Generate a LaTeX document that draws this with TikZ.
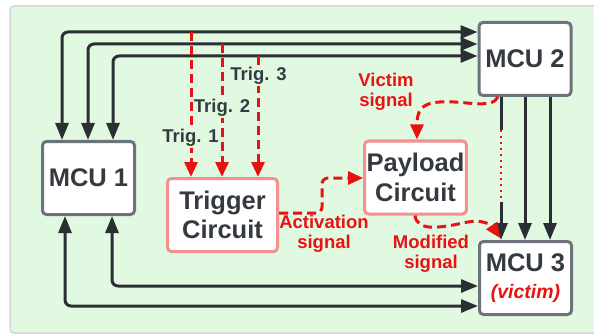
\documentclass[tikz,border=0pt]{standalone}
\usepackage{fontspec}
\setmainfont{Liberation Sans}
\usetikzlibrary{arrows.meta}
\definecolor{panel}{HTML}{E1F8E1}
\definecolor{panelborder}{HTML}{D3D7DB}
\definecolor{boxgray}{HTML}{6C737C}
\definecolor{pinkb}{HTML}{F49090}
\definecolor{sigred}{HTML}{E81212}
\definecolor{ink}{HTML}{2B2F33}
\definecolor{txt}{HTML}{343A40}
\tikzset{
  mcu/.style={draw=boxgray, line width=3pt, fill=white, rounded corners=4pt,
    minimum width=92pt, minimum height=73pt, inner sep=2pt, align=center,
    text=txt, font=\bfseries\fontsize{25.5}{29.5}\selectfont},
  circ/.style={mcu, draw=pinkb},
  bus/.style={draw=ink, line width=3pt, rounded corners=6pt,
    arrows={Triangle[length=17pt,width=13pt]-Triangle[length=17pt,width=13pt]}},
  down/.style={draw=ink, line width=3pt, -{Triangle[length=17pt,width=13pt]}},
  sig/.style={draw=sigred, line width=3pt, dash pattern=on 9pt off 5pt,
    -{Triangle[length=15pt,width=13pt]}},
  siglbl/.style={text=sigred, font=\bfseries\fontsize{18.5}{19.5}\selectfont, align=center, inner sep=0pt},
  triglbl/.style={text=txt, fill=panel, font=\bfseries\fontsize{18.5}{20}\selectfont, inner sep=1pt},
}
\begin{document}
\begin{tikzpicture}[x=1pt,y=-1pt]
\useasboundingbox (0,0) rectangle (594,334);
\fill[white] (0,0) rectangle (594,334);
\draw[panelborder, line width=1.5pt, fill=panel, rounded corners=4pt] (10,6) rectangle (600,333);

% boxes
\node[mcu] (m1) at (88.5,178) {MCU 1};
\node[mcu] (m2) at (525,59) {MCU 2};
\node[mcu] (m3) at (525.5,278) {MCU 3\\[-3pt]{\color{sigred}\itshape\fontsize{19.5}{22}\selectfont(victim)}};
\node[circ, minimum width=110pt] (trig) at (222.5,215) {Trigger\\Circuit};
\node[circ] (pay) at (415.5,177.5) {Payload\\Circuit};

% top buses MCU2 <-> MCU1
\draw[bus] (m2.west |- {(0,32)}) -| (m1.north -| {(62,0)});
\draw[bus] (m2.west |- {(0,44)}) -| (m1.north -| {(88,0)});
\draw[bus] (m2.west |- {(0,56)}) -| (m1.north -| {(113,0)});

% bottom buses MCU3 <-> MCU1
\draw[bus] (m3.west |- {(0,306)}) -| (m1.south -| {(65,0)});
\draw[bus] (m3.west |- {(0,286)}) -| (m1.south -| {(112,0)});

% MCU2 -> MCU3
\draw[down] (m2.south -| {(525,0)}) -- (m3.north -| {(525,0)});
\draw[down] (m2.south -| {(550,0)}) -- (m3.north -| {(550,0)});
\coordinate (cutA) at (501,130);
\coordinate (cutB) at (501,202);
\draw[ink, line width=3pt] (m2.south -| cutA) -- (cutA);
\draw[sigred, line width=2.6pt, dash pattern=on 2pt off 4pt] (cutA) -- (cutB);
\draw[down] (cutB) -- (m3.north -| cutB);

% trigger lines
\coordinate (t1) at (191,32);
\coordinate (t2) at (222,44);
\coordinate (t3) at (258,56);
\draw[sig] (t1) -- (trig.north -| t1);
\draw[sig] (t2) -- (trig.north -| t2);
\draw[sig] (t3) -- (trig.north -| t3);
\node[triglbl] (l1) at (190.5,138) {Trig. 1};
\node[triglbl] (l2) at (222,108) {Trig. 2};
\node[triglbl] (l3) at (258.5,76) {Trig. 3};

% activation signal
\draw[sig, rounded corners=6pt] (trig.east |- {(0,213)}) -- (322,213) -- (322,178) -- (pay.west |- {(0,178)});
\node[siglbl] (act) at (324,234) {Activation\\signal};

% victim signal
\draw[sig] (m2.south -| {(498,0)}) .. controls (492,110) and (462,100) .. (440,102)
  .. controls (420,103) and (417,112) .. (pay.north -| {(417,0)});
\node[siglbl] (vic) at (386,92) {Victim\\signal};

% modified signal
\coordinate (mtip) at (500,238);
\draw[sig] (pay.south -| {(415,0)}) .. controls (417,232) and (440,228) .. (468,222)
  .. controls (484,219) and (492,226) .. (mtip);
\node[siglbl] (mod) at (431,254) {Modified\\signal};
\end{tikzpicture}
\end{document}
